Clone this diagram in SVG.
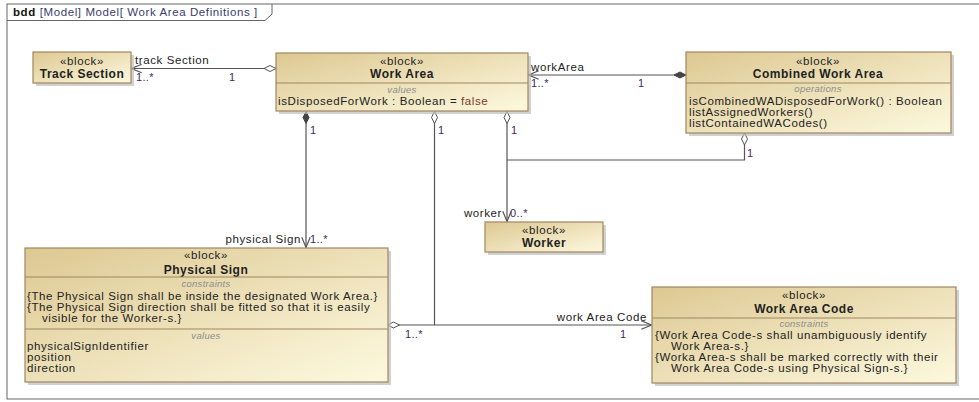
<svg xmlns="http://www.w3.org/2000/svg" width="979" height="402" viewBox="0 0 979 402">
  <defs>
    <linearGradient id="blockFill" x1="0" y1="0" x2="1" y2="1">
      <stop offset="0" stop-color="#ddc892"/>
      <stop offset="1" stop-color="#fdf9df"/>
    </linearGradient>
    <!-- open arrowhead at navigable end -->
    <marker id="open" markerUnits="userSpaceOnUse" markerWidth="12" markerHeight="12" viewBox="0 0 10 10" refX="9.5" refY="5" orient="auto">
      <path d="M1,1.5 L9.5,5 L1,8.5" fill="none" stroke="#555" stroke-width="1"/>
    </marker>
    <!-- aggregation (hollow diamond) -->
    <marker id="aggr" markerUnits="userSpaceOnUse" markerWidth="14" markerHeight="8" viewBox="0 0 14 8" refX="0.5" refY="4" orient="auto">
      <path d="M0.5,4 L6.5,1 L12.5,4 L6.5,7 Z" fill="#fff" stroke="#555" stroke-width="1"/>
    </marker>
    <!-- composition (filled diamond) -->
    <marker id="comp" markerUnits="userSpaceOnUse" markerWidth="14" markerHeight="8" viewBox="0 0 14 8" refX="0.5" refY="4" orient="auto">
      <path d="M0.5,4 L6.5,1 L12.5,4 L6.5,7 Z" fill="#444" stroke="#444" stroke-width="1"/>
    </marker>
  </defs>
  <style>
    text { font-family: "Liberation Sans", Arial, sans-serif; font-size: 11.5px; letter-spacing: 0.6px; fill: #222; }
    .box { fill: url(#blockFill); stroke: #a08660; stroke-width: 1.2; }
    .shadow { fill: #bdbdbd; opacity: 0.7; }
    .div { stroke: #a08660; stroke-width: 1; }
    .st { text-anchor: middle; }
    .nm { text-anchor: middle; font-weight: bold; font-size: 12px; letter-spacing: 0.5px; }
    .cmp { text-anchor: middle; font-style: italic; font-size: 9.5px; letter-spacing: 0.3px; fill: #8c8c8c; }
    .mult { fill: #4a2566; font-size: 11px; letter-spacing: 0.3px; }
    .role { fill: #222; }
    .conn { fill: none; stroke: #555; stroke-width: 1.2; }
  </style>

  <rect width="979" height="402" fill="#fff"/>

  <!-- diagram frame and name tab -->
  <g id="frame">
    <rect x="7" y="4" width="1000" height="395" fill="none" stroke="#666" stroke-width="1"/>
    <path d="M7,20.5 H265 L272,14 V4" fill="none" stroke="#666" stroke-width="1"/>
    <text x="13" y="16"><tspan font-weight="bold" fill="#111">bdd</tspan><tspan fill="#3c3c6e"> [Model] Model[ Work Area Definitions ]</tspan></text>
  </g>

  <!-- connectors -->
  <g id="connectors">
    <path class="conn" d="M276,68.5 H131.5" marker-start="url(#aggr)" marker-end="url(#open)"/>
    <path class="conn" d="M686,75 H528.5" marker-start="url(#comp)" marker-end="url(#open)"/>
    <path class="conn" d="M306,111.5 V247.5" marker-start="url(#comp)" marker-end="url(#open)"/>
    <path class="conn" d="M434.5,111.5 V325" marker-start="url(#aggr)"/>
    <path class="conn" d="M387.5,325 H651.5" marker-start="url(#aggr)" marker-end="url(#open)"/>
    <path class="conn" d="M507,111.5 V221.5" marker-start="url(#aggr)" marker-end="url(#open)"/>
    <path class="conn" d="M744.5,133 V160 H507" marker-start="url(#aggr)"/>

    <text class="role" x="135" y="64">track Section</text>
    <text class="mult" x="136" y="81">1..*</text>
    <text class="mult" x="229" y="81">1</text>

    <text class="role" x="531" y="71">workArea</text>
    <text class="mult" x="531" y="87">1..*</text>
    <text class="mult" x="638" y="87">1</text>

    <text class="mult" x="310" y="134">1</text>
    <text class="mult" x="438" y="134">1</text>
    <text class="mult" x="511" y="134">1</text>
    <text class="mult" x="747" y="157">1</text>

    <text class="role" x="301" y="243" text-anchor="end">physical Sign</text>
    <text class="mult" x="310" y="243">1..*</text>

    <text class="role" x="502" y="217" text-anchor="end">worker</text>
    <text class="mult" x="510" y="217">0..*</text>

    <text class="role" x="647" y="321" text-anchor="end">work Area Code</text>
    <text class="mult" x="620" y="338">1</text>
    <text class="mult" x="405" y="338">1..*</text>
  </g>

  <!-- Track Section -->
  <g id="track-section">
    <rect class="shadow" x="36" y="55" width="98" height="31"/>
    <rect class="box" x="33" y="52" width="98" height="31"/>
    <text class="st" x="82" y="65">«block»</text>
    <text class="nm" x="82" y="78">Track Section</text>
  </g>

  <!-- Work Area -->
  <g id="work-area">
    <rect class="shadow" x="279" y="56" width="252" height="58"/>
    <rect class="box" x="276" y="53" width="252" height="58"/>
    <text class="st" x="402" y="65">«block»</text>
    <text class="nm" x="402" y="78">Work Area</text>
    <line class="div" x1="276" y1="83" x2="528" y2="83"/>
    <text class="cmp" x="402" y="93">values</text>
    <text x="278" y="105">isDisposedForWork : Boolean = <tspan fill="#7a3a2a">false</tspan></text>
  </g>

  <!-- Combined Work Area -->
  <g id="combined-work-area">
    <rect class="shadow" x="689" y="55" width="265" height="81"/>
    <rect class="box" x="686" y="52" width="265" height="81"/>
    <text class="st" x="818" y="65">«block»</text>
    <text class="nm" x="818" y="78">Combined Work Area</text>
    <line class="div" x1="686" y1="83" x2="951" y2="83"/>
    <text class="cmp" x="818" y="92">operations</text>
    <text x="689" y="105">isCombinedWADisposedForWork() : Boolean</text>
    <text x="689" y="116">listAssignedWorkers()</text>
    <text x="689" y="127">listContainedWACodes()</text>
  </g>

  <!-- Worker -->
  <g id="worker">
    <rect class="shadow" x="488" y="225" width="118" height="30"/>
    <rect class="box" x="485" y="222" width="118" height="30"/>
    <text class="st" x="544" y="234">«block»</text>
    <text class="nm" x="544" y="247">Worker</text>
  </g>

  <!-- Physical Sign -->
  <g id="physical-sign">
    <rect class="shadow" x="28" y="251" width="363" height="134"/>
    <rect class="box" x="25" y="248" width="363" height="134"/>
    <text class="st" x="206" y="259">«block»</text>
    <text class="nm" x="206" y="274">Physical Sign</text>
    <line class="div" x1="25" y1="277" x2="388" y2="277"/>
    <text class="cmp" x="206" y="287">constraints</text>
    <text x="27" y="300">{The Physical Sign shall be inside the designated Work Area.}</text>
    <text x="27" y="311">{The Physical Sign direction shall be fitted so that it is easily</text>
    <text x="42" y="322">visible for the Worker-s.}</text>
    <line class="div" x1="25" y1="329" x2="388" y2="329"/>
    <text class="cmp" x="206" y="339">values</text>
    <text x="27" y="350">physicalSignIdentifier</text>
    <text x="27" y="361">position</text>
    <text x="27" y="372">direction</text>
  </g>

  <!-- Work Area Code -->
  <g id="work-area-code">
    <rect class="shadow" x="655" y="290" width="304" height="96"/>
    <rect class="box" x="652" y="287" width="304" height="96"/>
    <text class="st" x="804" y="299">«block»</text>
    <text class="nm" x="804" y="313">Work Area Code</text>
    <line class="div" x1="652" y1="318" x2="956" y2="318"/>
    <text class="cmp" x="804" y="327">constraints</text>
    <text x="655" y="339">{Work Area Code-s shall unambiguously identify</text>
    <text x="671" y="350">Work Area-s.}</text>
    <text x="655" y="361">{Worka Area-s shall be marked correctly with their</text>
    <text x="671" y="372">Work Area Code-s using Physical Sign-s.}</text>
  </g>
</svg>
